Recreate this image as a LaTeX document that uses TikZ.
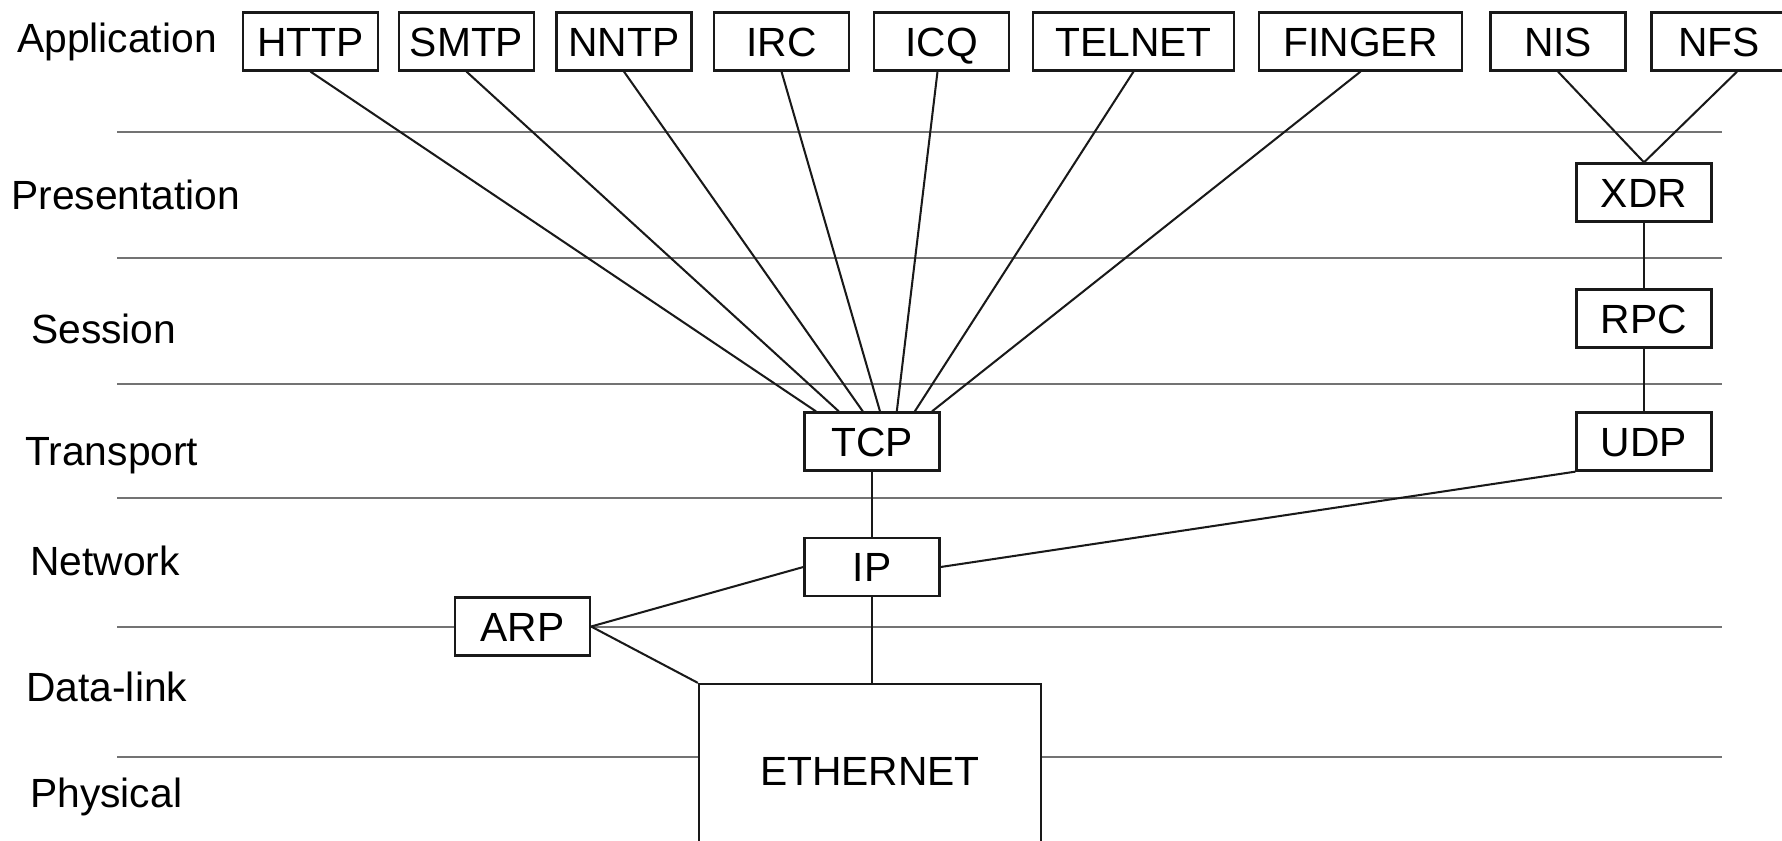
\documentclass[tikz,border=0pt]{standalone}
\usepackage{fontspec}
\setmainfont{Liberation Sans}
\begin{document}
\begin{tikzpicture}[x=0.025cm, y=-0.025cm,
    font=\fontsize{29}{34}\selectfont,
    proto/.style={draw=black!90, line width=1.6pt, fill=white, inner sep=0pt,
      minimum width=3.375cm, minimum height=1.45cm,
      text height=20.8pt, text depth=0pt},
    layerlbl/.style={anchor=base west, inner sep=0pt},
    sep/.style={draw=black!55, line width=1.3pt},
    link/.style={draw=black!90, line width=1.45pt}]
  \useasboundingbox (0,0) rectangle (1782,841);
  \clip (0,0) rectangle (1782,841);
  % layer names
  \node[layerlbl] (lApp) at (17,53) {Application};
  \node[layerlbl] (lPres) at (11,209) {Presentation};
  \node[layerlbl] (lSess) at (31,343) {Session};
  \node[layerlbl] (lTrans) at (25,465) {Transport};
  \node[layerlbl] (lNet) at (30,575) {Network};
  \node[layerlbl] (lData) at (26,701) {Data-link};
  \node[layerlbl] (lPhys) at (30,807) {Physical};
  % layer separators
  \foreach \y in {132,258,384,498,627,757}
    \draw[sep] (117,\y) -- (1722,\y);
  % protocols
  \node[proto] (http) at (310.5,41.5) {HTTP};
  \node[proto] (smtp) at (466.5,41.5) {SMTP};
  \node[proto] (nntp) at (624,41.5) {NNTP};
  \node[proto] (irc) at (781.5,41.5) {IRC};
  \node[proto] (icq) at (941.5,41.5) {ICQ};
  \node[proto, minimum width=5.025cm] (telnet) at (1133.5,41.5) {TELNET};
  \node[proto, minimum width=5.075cm] (finger) at (1360.5,41.5) {FINGER};
  \node[proto] (nis) at (1558,41.5) {NIS};
  \node[proto] (nfs) at (1719,41.5) {NFS};
  \node[proto] (xdr) at (1644,192.5) {XDR};
  \node[proto] (rpc) at (1644,318.5) {RPC};
  \node[proto] (udp) at (1644,441.5) {UDP};
  \node[proto] (tcp) at (872,441.5) {TCP};
  \node[proto] (ip) at (872,567) {IP};
  \node[proto] (arp) at (522.5,626.5) {ARP};
  \node[proto, minimum width=8.55cm, minimum height=4.35cm] (eth) at (870,771) {ETHERNET};
  % links
  \draw[link] (http.south) -- ([xshift=-1.4cm]tcp.north);
  \draw[link] (smtp.south) -- ([xshift=-0.83cm]tcp.north);
  \draw[link] (nntp.south) -- ([xshift=-0.23cm]tcp.north);
  \draw[link] (irc.south) -- ([xshift=0.2cm]tcp.north);
  \draw[link] ([xshift=-0.1cm]icq.south) -- ([xshift=0.62cm]tcp.north);
  \draw[link] (telnet.south) -- ([xshift=1.07cm]tcp.north);
  \draw[link] (finger.south) -- ([xshift=1.5cm]tcp.north);
  \draw[link] (nis.south) -- (xdr.north);
  \draw[link] ([xshift=0.45cm]nfs.south) -- (xdr.north);
  \draw[link] (xdr.south) -- (rpc.north);
  \draw[link] (rpc.south) -- (udp.north);
  \draw[link] (udp.south west) -- (ip.east);
  \draw[link] (tcp.south) -- (ip.north);
  \draw[link] (ip.west) -- (arp.east);
  \draw[link] (arp.east) -- (eth.north west);
  \draw[link] (ip.south) -- (ip.south |- eth.north);
\end{tikzpicture}
\end{document}
